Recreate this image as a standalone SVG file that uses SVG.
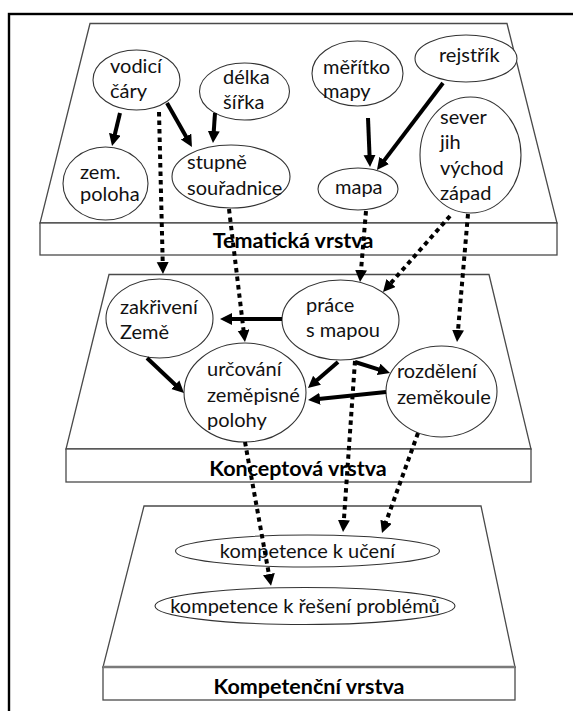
<svg xmlns="http://www.w3.org/2000/svg" width="573" height="711" viewBox="0 0 573 711">
  <style>
    .layer { fill: #ffffff; stroke: #4a4a4a; stroke-width: 1.3; }
    .node { fill: #ffffff; stroke: #333333; stroke-width: 1.1; }
    .lbl { font-family: Lato, "Liberation Sans", sans-serif; font-size: 20px; fill: #111111; }
    .title { font-family: Lato, "Liberation Sans", sans-serif; font-size: 21.5px; font-weight: bold; fill: #000000; text-anchor: middle; }
    .solid { fill: none; stroke: #000000; stroke-width: 4; marker-end: url(#head); }
    .dots { fill: none; stroke: #000000; stroke-width: 4; stroke-dasharray: 4.5 4; marker-end: url(#head); }
  </style>
  <defs>
    <marker id="head" markerUnits="userSpaceOnUse" markerWidth="13" markerHeight="13" refX="4" refY="6" orient="auto">
      <path d="M0,0 L12,6 L0,12 z" fill="#000000"/>
    </marker>
  </defs>

  <rect width="573" height="711" fill="#ffffff"/>
  <!-- outer frame -->
  <rect x="9" y="14" width="575" height="710" fill="none" stroke="#000000" stroke-width="2.4"/>

  <!-- layer slabs -->
  <g id="layer-tematicka">
    <polygon class="layer" points="90,23.5 507,23.5 557,223 40,223"/>
    <rect class="layer" x="40" y="223" width="517" height="32"/>
    <text class="title" x="293" y="248">Tematická vrstva</text>
  </g>
  <g id="layer-konceptova">
    <polygon class="layer" points="109,274.5 489,274.5 531,449 66,449"/>
    <rect class="layer" x="66" y="449" width="465" height="33"/>
    <text class="title" x="298" y="476">Konceptová vrstva</text>
  </g>
  <g id="layer-kompetencni">
    <polygon class="layer" points="144,506 481,506 515,667 103,667"/>
    <rect class="layer" x="103" y="667" width="412" height="33"/>
    <line x1="103" y1="667" x2="515" y2="667" stroke="#7a7a7a" stroke-width="2.6"/>
    <text class="title" x="309" y="694">Kompetenční vrstva</text>
  </g>

  <!-- thematic layer nodes -->
  <g id="vodici-cary">
    <ellipse class="node" cx="136.5" cy="80" rx="43.5" ry="30"/>
    <text class="lbl" x="110" y="73">vodicí</text>
    <text class="lbl" x="110" y="98">čáry</text>
  </g>
  <g id="delka-sirka">
    <ellipse class="node" cx="244.5" cy="91.5" rx="45" ry="28.5"/>
    <text class="lbl" x="223" y="84">délka</text>
    <text class="lbl" x="223" y="109">šířka</text>
  </g>
  <g id="zem-poloha">
    <ellipse class="node" cx="105.5" cy="183.5" rx="42.5" ry="36.5"/>
    <text class="lbl" x="80" y="179">zem.</text>
    <text class="lbl" x="80" y="201">poloha</text>
  </g>
  <g id="stupne-souradnice">
    <ellipse class="node" cx="231" cy="176.5" rx="59" ry="31.5"/>
    <text class="lbl" x="187" y="169">stupně</text>
    <text class="lbl" x="187" y="195">souřadnice</text>
  </g>
  <g id="meritko-mapy">
    <ellipse class="node" cx="357.5" cy="73.5" rx="45.5" ry="32.5"/>
    <text class="lbl" x="323" y="74">měřítko</text>
    <text class="lbl" x="323" y="98">mapy</text>
  </g>
  <g id="rejstrik">
    <ellipse class="node" cx="466" cy="58.5" rx="51" ry="23.5"/>
    <text class="lbl" x="439" y="62">rejstřík</text>
  </g>
  <g id="svetove-strany">
    <ellipse class="node" cx="470.5" cy="155" rx="50.5" ry="58"/>
    <text class="lbl" x="440" y="124">sever</text>
    <text class="lbl" x="440" y="149">jih</text>
    <text class="lbl" x="440" y="175">východ</text>
    <text class="lbl" x="440" y="200">západ</text>
  </g>
  <g id="mapa">
    <ellipse class="node" cx="358" cy="189" rx="40" ry="21"/>
    <text class="lbl" x="335" y="194">mapa</text>
  </g>

  <!-- concept layer nodes -->
  <g id="zakriveni-zeme">
    <ellipse class="node" cx="159.5" cy="318.5" rx="53.5" ry="39.5"/>
    <text class="lbl" x="120" y="314">zakřivení</text>
    <text class="lbl" x="120" y="339">Země</text>
  </g>
  <g id="urcovani-polohy">
    <ellipse class="node" cx="245" cy="392.5" rx="61" ry="49.5"/>
    <text class="lbl" x="207" y="376">určování</text>
    <text class="lbl" x="207" y="402">zeměpisné</text>
    <text class="lbl" x="207" y="427">polohy</text>
  </g>
  <g id="prace-s-mapou">
    <ellipse class="node" cx="340.5" cy="320" rx="58.5" ry="40"/>
    <text class="lbl" x="306" y="312">práce</text>
    <text class="lbl" x="306" y="337">s mapou</text>
  </g>
  <g id="rozdeleni-zemekoule">
    <ellipse class="node" cx="441.5" cy="391.5" rx="55.5" ry="45.5"/>
    <text class="lbl" x="397" y="378">rozdělení</text>
    <text class="lbl" x="397" y="404">zeměkoule</text>
  </g>

  <!-- competence layer nodes -->
  <g id="kompetence-uceni">
    <ellipse class="node" cx="307.5" cy="551" rx="132" ry="16"/>
    <text class="lbl" x="307.5" y="558" text-anchor="middle">kompetence k učení</text>
  </g>
  <g id="kompetence-reseni">
    <ellipse class="node" cx="305" cy="606" rx="150" ry="18.5"/>
    <text class="lbl" x="305" y="613" text-anchor="middle">kompetence k řešení problémů</text>
  </g>

  <!-- connectors -->
  <g id="connectors">
    <path class="solid" d="M120,113 L113.9,138.2"/>
    <path class="solid" d="M167,103 L188,140"/>
    <path class="solid" d="M215,113 L213.5,135"/>
    <path class="solid" d="M368,118 L369.7,159"/>
    <path class="solid" d="M443,83 L381.8,163.6"/>
    <path class="solid" d="M282,319 L228,319"/>
    <path class="solid" d="M147,358 L178.2,387.5"/>
    <path class="solid" d="M338,362 L314,382.8"/>
    <path class="solid" d="M355,362 L382.4,370.6"/>
    <path class="solid" d="M386,392 L316,399.2"/>

    <path class="dots" d="M159,112 L162.8,266"/>
    <path class="dots" d="M229,209 L244,334"/>
    <path class="dots" d="M366,211 L360.7,274"/>
    <path class="dots" d="M450,216 L388.3,286"/>
    <path class="dots" d="M468,214 L457.7,334"/>
    <path class="dots" d="M245,442 L269.6,578"/>
    <path class="dots" d="M355,361 L343.6,524"/>
    <path class="dots" d="M418,433 L384.7,525.5"/>
  </g>
</svg>
